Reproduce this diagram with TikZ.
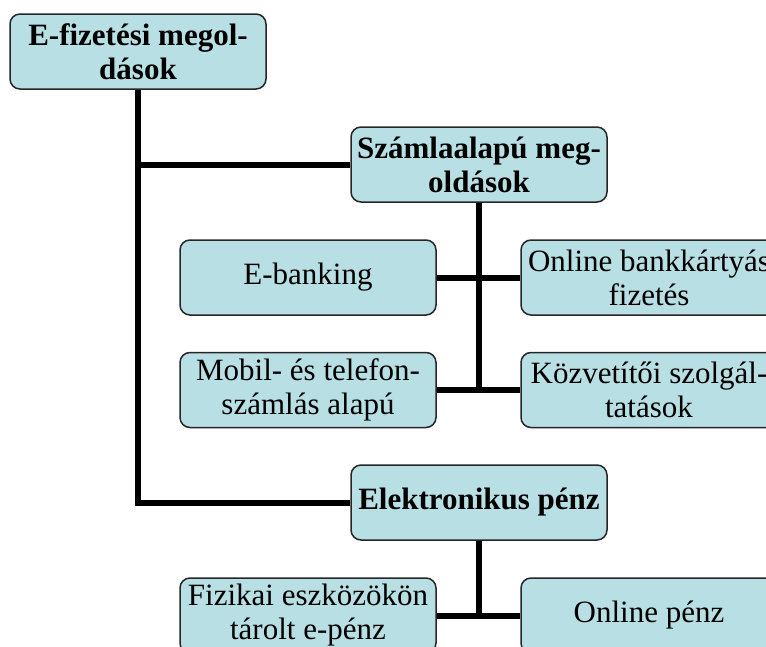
\documentclass[tikz,border=0pt]{standalone}
\usepackage{fontspec}
\setmainfont{Liberation Serif}
\definecolor{boxblue}{RGB}{184,223,227}
\begin{document}
\begin{tikzpicture}[x=1pt,y=-1pt,
  box/.style={draw=black!85,line width=1.5pt,fill=boxblue,rounded corners=10pt,
    minimum width=256pt,minimum height=75pt,inner sep=2pt,align=center,
    font=\fontsize{31}{34}\selectfont},
  head/.style={box,font=\fontsize{31}{34}\selectfont\bfseries},
  link/.style={line width=6pt}]
\useasboundingbox (0,0) rectangle (766,646);
\clip (0,0) rectangle (766,646);

\node[head] (root) at (138,51.5) {E-fizetési megol-\\dások};
\node[head] (szamla) at (479,164.5) {Számlaalapú meg-\\oldások};
\node[box] (ebank) at (308,277.5) {E-banking};
\node[box] (onlinebank) at (649,277.5) {Online bankkártyás\\fizetés};
\node[box] (mobil) at (308,390) {Mobil- és telefon-\\számlás alapú};
\node[box] (kozvet) at (649,390) {Közvetítői szolgál-\\tatások};
\node[head] (elektr) at (479,502.5) {Elektronikus pénz};
\node[box] (fizikai) at (308,615.5) {Fizikai eszközökön\\tárolt e-pénz};
\node[box] (onlinepenz) at (649,615.5) {Online pénz};

\draw[link] (root) |- (szamla);
\draw[link] (root) |- (elektr);
\draw[link] (szamla) -- (szamla |- mobil);
\draw[link] (ebank) -- (onlinebank);
\draw[link] (mobil) -- (kozvet);
\draw[link] (elektr) -- (elektr |- fizikai);
\draw[link] (fizikai) -- (onlinepenz);

\end{tikzpicture}
\end{document}
